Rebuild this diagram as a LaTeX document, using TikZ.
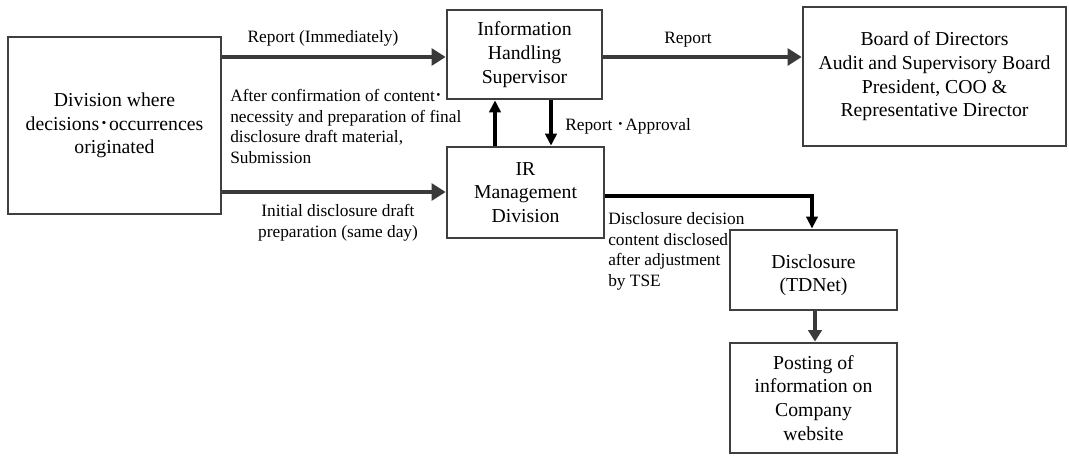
\documentclass[tikz,border=0pt]{standalone}
\usepackage{fontspec}
\setmainfont{Liberation Serif}
\newfontfamily\cjk{Noto Sans CJK JP}
\usetikzlibrary{arrows.meta}
\newcommand{\mdot}{{\cjk ･}}
\definecolor{boxline}{HTML}{3F3F3F}
\definecolor{arrgray}{HTML}{3A3A3A}
\begin{document}
\begin{tikzpicture}[x=0.75pt,y=-0.75pt,
  box/.style={draw=boxline,line width=2pt,align=center,inner sep=0pt,
    font=\fontsize{14.8}{17.8}\selectfont},
  lbl/.style={inner sep=0pt,font=\fontsize{13}{15.4}\selectfont},
  harrow/.style={draw=arrgray,line width=3pt,-{Triangle[length=10.5pt,width=12.5pt]}},
  varrow/.style={draw=black,line width=2.5pt,-{Triangle[length=9pt,width=8.5pt]}},
  garrow/.style={draw=arrgray,line width=2.4pt,-{Triangle[length=8.5pt,width=10pt]}}]
\useasboundingbox (0,0) rectangle (1069,455);
\fill[white] (0,0) rectangle (1069,455);

\node[box,minimum width=213*0.75pt,minimum height=177*0.75pt] (div) at (114.5,125.5)
  {Division where\\decisions\mdot occurrences\\originated};
\node[box,minimum width=155*0.75pt,minimum height=89*0.75pt] (info) at (524.5,54.5)
  {Information\\Handling\\Supervisor};
\node[box,minimum width=157*0.75pt,minimum height=91*0.75pt] (ir) at (525.5,192.5)
  {IR\\Management\\Division};
\node[box,minimum width=263*0.75pt,minimum height=139*0.75pt] (board) at (934.5,76.5)
  {Board of Directors\\Audit and Supervisory Board\\President, COO \&\\Representative Director};
\node[box,line width=2.2pt,minimum width=167*0.75pt,minimum height=80*0.75pt] (disc) at (813.5,270)
  {\raisebox{-4pt}[\height][\depth]{\begin{tabular}{@{}c@{}}Disclosure\\(TDNet)\end{tabular}}};
\node[box,line width=2.2pt,minimum width=167*0.75pt,minimum height=110*0.75pt] (post) at (813.5,398)
  {Posting of\\information on\\Company\\website};

\draw[harrow] (div.east |- 0,57) -- (info.west |- 0,57);
\draw[harrow] (div.east |- 0,192) -- (ir.west |- 0,192);
\draw[varrow] (ir.north -| 495,0) -- (info.south -| 495,0);
\draw[varrow] (info.south -| 551,0) -- (ir.north -| 551,0);
\draw[harrow] (info.east |- 0,57) -- (board.west |- 0,57);
\draw[varrow] (ir.east |- 0,196) -| (disc.north -| 812,0);
\draw[garrow] (disc.south -| 815,0) -- (post.north -| 815,0);

\node[lbl] (l1) at (323,38) {Report (Immediately)};
\node[lbl,anchor=west,align=left] (l2) at (230,126.5)
  {After confirmation of content\mdot\\necessity and preparation of final\\disclosure draft material,\\Submission};
\node[lbl,align=center] (l3) at (338,222.5) {Initial disclosure draft\\preparation (same day)};
\node[lbl,anchor=west] (l4) at (565,126) {Report \mdot Approval};
\node[lbl] (l5) at (688,40) {Report};
\node[lbl,anchor=west,align=left] (l6) at (608,251.5)
  {Disclosure decision\\content disclosed\\after adjustment\\by TSE};
\end{tikzpicture}
\end{document}
